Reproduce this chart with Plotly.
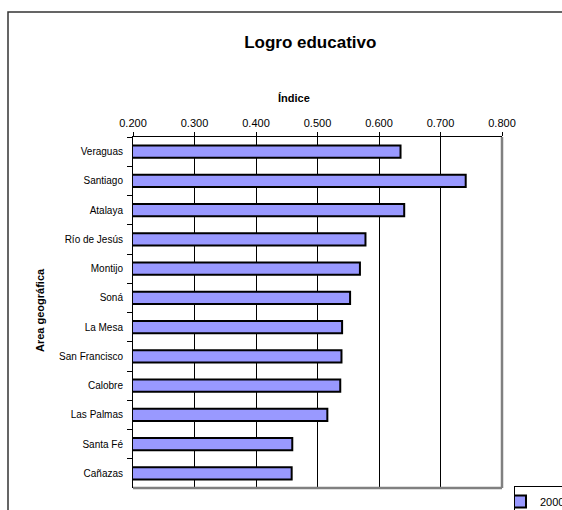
import plotly.graph_objects as go

areas = ["Veraguas", "Santiago", "Atalaya", "Río de Jesús", "Montijo", "Soná",
         "La Mesa", "San Francisco", "Calobre", "Las Palmas", "Santa Fé", "Cañazas"]
indice_2000 = [0.635, 0.741, 0.641, 0.578, 0.569, 0.553,
               0.540, 0.539, 0.537, 0.516, 0.459, 0.458]
x_ticks = [0.2, 0.3, 0.4, 0.5, 0.6, 0.7, 0.8]
x_tick_labels = ["0.200", "0.300", "0.400", "0.500", "0.600", "0.700", "0.800"]
series_name = "2000"

W, H = 562, 510
L, R, T, B = 133, 60, 137, 22
pw, ph = W - L - R, H - T - B

def px_x(p):
    return (p - L) / pw

def px_y(p):
    return (H - B - p) / ph

FONT = "Arial, Liberation Sans, sans-serif"

fig = go.Figure()
fig.add_trace(go.Bar(
    y=areas, x=indice_2000, orientation="h", name=series_name,
    width=0.42,
    marker=dict(color="#9999FF", line=dict(color="black", width=2)),
    showlegend=True,
))

fig.update_layout(
    width=W, height=H,
    margin=dict(l=L, r=R, t=T, b=B, autoexpand=False),
    paper_bgcolor="white", plot_bgcolor="white",
    font=dict(family=FONT, size=11, color="black"),
    title=dict(text="<b>Logro educativo</b>", x=270 / W, xanchor="center",
               y=1 - 42 / H, yanchor="middle", xref="paper", yref="container",
               font=dict(size=17, family=FONT, color="black")),
    xaxis=dict(side="top", range=[0.2, 0.8], tickvals=x_ticks, ticktext=x_tick_labels,
               showgrid=True, gridcolor="black", gridwidth=1,
               showline=True, linecolor="black", linewidth=1,
               ticks="outside", ticklen=4, tickcolor="black",
               tickfont=dict(size=11), zeroline=False, fixedrange=True,
               ticklabelstandoff=1),
    yaxis=dict(categoryorder="array", categoryarray=areas, autorange="reversed",
               showline=True, linecolor="black", linewidth=1,
               ticks="outside", ticklen=5, tickcolor="black", tickson="boundaries",
               showgrid=False, tickfont=dict(size=10), ticklabelstandoff=7,
               fixedrange=True),
    legend=dict(x=px_x(514), y=px_y(486), xanchor="left", yanchor="top",
                bgcolor="white", bordercolor="black", borderwidth=1,
                font=dict(size=11), itemwidth=30, indentation=-15,
                tracegroupgap=0),
    bargap=0.58,
)

# Outer chart-area border
fig.add_shape(type="rect", xref="paper", yref="paper",
              x0=px_x(8), x1=px_x(700), y0=px_y(12), y1=px_y(620),
              line=dict(color="#333333", width=1.5), fillcolor="rgba(0,0,0,0)", layer="below")
# Gray right and bottom plot frame
fig.add_shape(type="line", xref="paper", yref="paper", x0=1, x1=1, y0=0, y1=1,
              line=dict(color="#808080", width=2.5))
fig.add_shape(type="line", xref="paper", yref="paper", x0=0, x1=1, y0=0, y1=0,
              line=dict(color="#808080", width=2.5))

fig.add_annotation(text="<b>Índice</b>", xref="paper", yref="paper",
                   x=px_x(294), y=px_y(98), showarrow=False,
                   font=dict(size=11, family=FONT), xanchor="center", yanchor="middle")
fig.add_annotation(text="<b>Area geográfica</b>", xref="paper", yref="paper",
                   x=px_x(40), y=px_y(310), showarrow=False, textangle=-90,
                   font=dict(size=11, family=FONT), xanchor="center", yanchor="middle")

fig.write_html("out.html", config={"displayModeBar": False},
               post_script="document.body.style.margin='0';document.body.style.overflow='hidden';")
